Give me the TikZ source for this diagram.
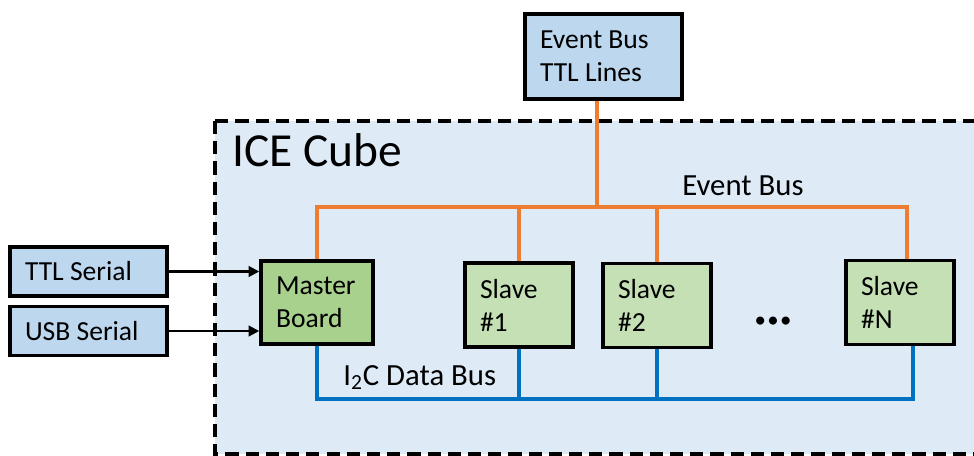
\documentclass[tikz,border=0pt]{standalone}
\usepackage{fontspec}
\setmainfont{Carlito}
\usepackage{tikz}
\usetikzlibrary{arrows.meta,positioning,calc}
\definecolor{boxblue}{HTML}{BDD7EE}
\definecolor{cubebg}{HTML}{DEEBF7}
\definecolor{mastergreen}{HTML}{A9D18E}
\definecolor{slavegreen}{HTML}{C5E0B4}
\definecolor{busorange}{HTML}{ED7D31}
\definecolor{busblue}{HTML}{0070C0}

\begin{document}
\begin{tikzpicture}[
    x=0.02cm, y=-0.02cm,
    unit/.style={draw=black, line width=2pt, text width=#1, inner xsep=0.3cm, align=left,
        font=\fontsize{15.7}{18.8}\selectfont, execute at begin node={\spaceskip=0pt\xspaceskip=0pt}},
    iobox/.style={unit=2.54cm, fill=boxblue, minimum height=0.98cm},
    board/.style={unit=1.56cm, fill=slavegreen, minimum height=1.68cm},
    evbus/.style={draw=busorange, line width=1.9pt},
    databus/.style={draw=busblue, line width=1.9pt},
    sigarrow/.style={draw=black, line width=1.2pt, -{Triangle[length=6pt,width=6pt]}},
    buslabel/.style={font=\fontsize{17.5}{21}\selectfont, anchor=base west, inner sep=0pt}
]
    \useasboundingbox (0,0) rectangle (974,456);

    % ICE Cube area
    \begin{scope}
        \clip (0,0) rectangle (974,456);
        \draw[fill=cubebg, line width=1.9pt, dash pattern=on 7.5pt off 4pt] (215,121) rectangle (1000,454);
    \end{scope}
    \node[buslabel, font=\fontsize{27}{32}\selectfont] (cube) at (232,167) {ICE Cube};

    \node[iobox, minimum height=1.7cm] (ttllines) at (603.5,56.5) {Event Bus\\TTL Lines};
    \node[iobox] (ttlser) at (88.5,271.5) {TTL Serial};
    \node[iobox] (usbser) at (88.5,331) {USB Serial};

    \node[board, unit=1.64cm, fill=mastergreen, minimum height=1.66cm] (master) at (317,302.5) {Master\\Board};
    \node[board] (slave1) at (519,305) {Slave\\\#1};
    \node[board] (slave2) at (657,305.5) {Slave\\\#2};
    \node[board] (slaveN) at (900,302.5) {Slave\\\#N};
    \node[font=\fontsize{13}{13}\selectfont, inner sep=0pt] (dots) at (773,322) {•\kern0.8pt•\kern0.8pt•};

    % event bus
    \coordinate (ebus) at (597,207);
    \coordinate (ntap) at ([xshift=0.14cm]slaveN.north);
    \draw[evbus] (ttllines.south -| ebus) -- (ebus);
    \draw[evbus] (master.north) |- (ebus) -| (ntap);
    \foreach \s in {slave1,slave2}
        \draw[evbus] (\s.north) -- (\s.north |- ebus);
    \node[buslabel] (evlabel) at (682,195) {Event Bus};

    % I2C data bus
    \coordinate (i2c) at (520,399);
    \coordinate (dtap) at ([xshift=0.26cm]slaveN.south);
    \draw[databus] (master.south) |- (i2c) -| (dtap);
    \foreach \s in {slave1,slave2}
        \draw[databus] (\s.south) -- (\s.south |- i2c);
    \node[buslabel] (i2clabel) at (343,385) {I\textsubscript{2}C Data Bus};

    % serial inputs
    \draw[sigarrow] (ttlser.east) -- (ttlser.east -| master.west);
    \draw[sigarrow] (usbser.east) -- (usbser.east -| master.west);
\end{tikzpicture}
\end{document}
